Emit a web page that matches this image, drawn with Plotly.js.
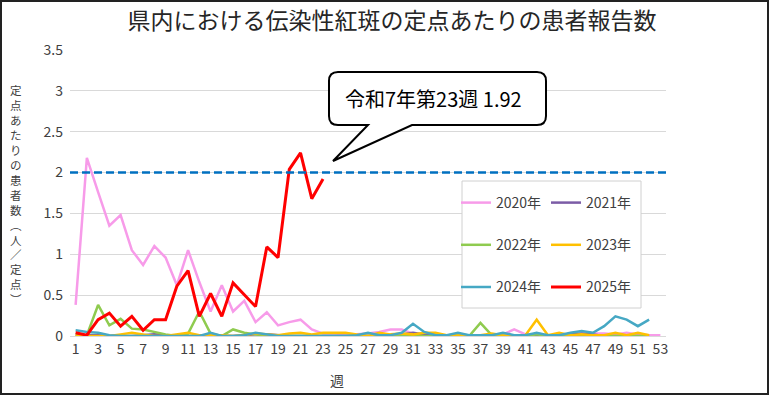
<!DOCTYPE html>
<html>
<head>
<meta charset="utf-8">
<script src="https://cdn.plot.ly/plotly-3.0.1.min.js"></script>
<style>
html,body{margin:0;padding:0;background:#fff;}
#chart{width:769px;height:395px;}
</style>
</head>
<body>
<div id="chart"></div>
<script>
// ---- data ----
const weeks = [1,2,3,4,5,6,7,8,9,10,11,12,13,14,15,16,17,18,19,20,21,22,23,24,25,26,27,28,29,30,31,32,33,34,35,36,37,38,39,40,41,42,43,44,45,46,47,48,49,50,51,52,53];
const y2020 = [0.38,2.18,1.76,1.35,1.48,1.05,0.87,1.10,0.96,0.62,1.05,0.66,0.30,0.62,0.30,0.43,0.17,0.29,0.13,0.17,0.20,0.08,0.03,0.03,0.02,0.02,0.03,0.05,0.08,0.08,0.03,0.01,0.01,0.01,0.01,0.00,0.01,0.01,0.02,0.08,0.02,0.01,0.01,0.00,0.02,0.03,0.03,0.03,0.02,0.04,0.02,0.01,0.01];
const y2021 = [0.00,0.01,0.01,0.00,0.00,0.00,0.01,0.02,0.01,0.00,0.00,0.00,0.00,0.00,0.00,0.01,0.02,0.02,0.01,0.00,0.00,0.00,0.00,0.00,0.00,0.00,0.00,0.00,0.00,0.02,0.04,0.02,0.00,0.00,0.00,0.00,0.00,0.00,0.00,0.00,0.00,0.00,0.00,0.00,0.02,0.03,0.02,0.00,0.00,0.00,0.00,0.00];
const y2022 = [0.02,0.01,0.38,0.13,0.21,0.09,0.08,0.05,0.02,0.00,0.03,0.30,0.03,0.00,0.08,0.04,0.02,0.00,0.00,0.00,0.00,0.00,0.00,0.00,0.00,0.00,0.00,0.00,0.00,0.00,0.01,0.00,0.00,0.00,0.00,0.00,0.16,0.01,0.00,0.00,0.00,0.02,0.00,0.00,0.00,0.00,0.00,0.00,0.00,0.00,0.00,0.00];
const y2023 = [0.00,0.00,0.00,0.00,0.02,0.04,0.02,0.00,0.00,0.02,0.04,0.01,0.01,0.01,0.00,0.01,0.03,0.02,0.01,0.03,0.04,0.02,0.04,0.04,0.04,0.02,0.00,0.04,0.02,0.03,0.02,0.04,0.04,0.01,0.01,0.00,0.01,0.03,0.01,0.00,0.01,0.20,0.01,0.04,0.01,0.02,0.01,0.01,0.04,0.01,0.04,0.01];
const y2024 = [0.07,0.05,0.04,0.01,0.00,0.00,0.00,0.00,0.00,0.00,0.00,0.00,0.04,0.00,0.00,0.01,0.04,0.02,0.00,0.00,0.00,0.00,0.00,0.00,0.00,0.01,0.04,0.01,0.01,0.04,0.15,0.05,0.01,0.01,0.04,0.01,0.01,0.01,0.04,0.01,0.01,0.04,0.01,0.01,0.04,0.06,0.04,0.12,0.24,0.20,0.12,0.20];
const y2025 = [0.04,0.01,0.20,0.28,0.12,0.24,0.07,0.20,0.20,0.61,0.80,0.24,0.52,0.24,0.65,0.50,0.36,1.09,0.96,2.04,2.24,1.68,1.92];
const seriesNames = ['2020年','2021年','2022年','2023年','2024年','2025年'];
const tickWeeks = [1,3,5,7,9,11,13,15,17,19,21,23,25,27,29,31,33,35,37,39,41,43,45,47,49,51,53];
const yTicks = [0,0.5,1,1.5,2,2.5,3,3.5];
const alertLevel = 2;
const chartTitle = '県内における伝染性紅斑の定点あたりの患者報告数';
const calloutText = '令和7年第23週 1.92';
const xTitle = '週';
const yTitleChars = ['定','点','あ','た','り','の','患','者','数','︵','人','／','定','点','︶'];

// ---- styling ----
const FONT = '"Noto Sans CJK JP", "Noto Sans", sans-serif';
const colors = ['#F79BE9','#7B5CA6','#8FCB4F','#FFC000','#46A8C4','#FF0000'];
const widths = [2.5,2.5,2.5,2.5,2.5,3];
const seriesData = [y2020,y2021,y2022,y2023,y2024,y2025];
const legendOf = ['legend','legend2','legend','legend2','legend','legend2'];

// layout geometry (pixels)
const W = 769, H = 395;
const M = {l:70, r:103, t:50, b:59};
const PW = W - M.l - M.r, PH = H - M.t - M.b;
const px = x => (x - M.l) / PW;
const py = y => (H - M.b - y) / PH;

const traces = seriesData.map((arr, i) => ({
  type: 'scatter',
  mode: 'lines',
  name: seriesNames[i],
  x: weeks.slice(0, arr.length),
  y: arr,
  line: {color: colors[i], width: widths[i]},
  legend: legendOf[i],
  legendgroup: 'g' + i,
  hoverinfo: 'x+y+name'
}));

// callout path (rounded box with tail)
const L = 329, R = 546, T = 72, B = 125, r = 9;
const xa = 368, xb = 412, tipX = 333, tipY = 161;
const P = (x, y) => px(x).toFixed(5) + ',' + py(y).toFixed(5);
const calloutPath =
  'M' + P(L + r, T) + ' L' + P(R - r, T) + ' Q' + P(R, T) + ' ' + P(R, T + r) +
  ' L' + P(R, B - r) + ' Q' + P(R, B) + ' ' + P(R - r, B) +
  ' L' + P(xb, B) + ' L' + P(tipX, tipY) + ' L' + P(xa, B) +
  ' L' + P(L + r, B) + ' Q' + P(L, B) + ' ' + P(L, B - r) +
  ' L' + P(L, T + r) + ' Q' + P(L, T) + ' ' + P(L + r, T) + ' Z';

const legendCommon = {
  bgcolor: 'rgba(0,0,0,0)', borderwidth: 0,
  font: {family: FONT, size: 14, color: '#404040'},
  tracegroupgap: 21, itemwidth: 30,
  xanchor: 'left', yanchor: 'top', itemclick: false, itemdoubleclick: false
};

const layout = {
  width: W, height: H,
  margin: M,
  paper_bgcolor: '#ffffff', plot_bgcolor: '#ffffff',
  font: {family: FONT, color: '#404040'},
  title: {
    text: chartTitle,
    font: {family: FONT, size: 23, color: '#262626'},
    x: 392 / W, xanchor: 'center', xref: 'container',
    y: 1 - 21 / H, yanchor: 'middle', yref: 'container'
  },
  xaxis: {
    range: [0.5, 53.5],
    tickvals: tickWeeks,
    ticktext: tickWeeks.map(String),
    tickfont: {family: FONT, size: 14, color: '#404040'},
    showgrid: false, zeroline: false,
    showline: true, linecolor: '#d9d9d9', linewidth: 1,
    ticks: '', fixedrange: true
  },
  yaxis: {
    range: [0, 3.5],
    tickvals: yTicks,
    ticktext: yTicks.map(String),
    tickfont: {family: FONT, size: 14, color: '#404040'},
    showgrid: true, gridcolor: '#d9d9d9', gridwidth: 1,
    zeroline: false, showline: false, ticks: '', ticklabelstandoff: 6, fixedrange: true
  },
  showlegend: true,
  legend: Object.assign({}, legendCommon, {x: px(456), y: py(187)}),
  legend2: Object.assign({}, legendCommon, {x: px(546), y: py(187)}),
  shapes: [
    // alert level dashed line
    {type: 'line', xref: 'paper', x0: 0, x1: 1, yref: 'y', y0: alertLevel, y1: alertLevel,
     line: {color: '#0070C0', width: 2.5, dash: '8px,4px'}, layer: 'above'},
    // legend box
    {type: 'rect', xref: 'paper', yref: 'paper', x0: px(462), x1: px(641), y0: py(308), y1: py(181),
     fillcolor: '#ffffff', line: {color: '#d0d0d0', width: 1}, layer: 'above'},
    // callout
    {type: 'path', xref: 'paper', yref: 'paper', path: calloutPath,
     fillcolor: '#ffffff', line: {color: '#000000', width: 2}, layer: 'above'},
    // outer frame
    {type: 'rect', xref: 'paper', yref: 'paper', x0: px(1), x1: px(768), y0: py(394), y1: py(1),
     line: {color: '#222222', width: 2}, layer: 'above'}
  ],
  annotations: [
    {text: calloutText, xref: 'paper', yref: 'paper', x: px(433), y: py(98),
     xanchor: 'center', yanchor: 'middle', showarrow: false,
     font: {family: FONT, size: 20, color: '#000000'}},
    {text: xTitle, xref: 'paper', yref: 'paper', x: px(337), y: py(380),
     xanchor: 'center', yanchor: 'middle', showarrow: false,
     font: {family: FONT, size: 14, color: '#404040'}},
    {text: yTitleChars.join('<br>'), xref: 'paper', yref: 'paper', x: px(16), y: py(194),
     xanchor: 'center', yanchor: 'middle', showarrow: false,
     font: {family: FONT, size: 11.5, color: '#404040'}}
  ]
};

Plotly.newPlot('chart', traces, layout, {displayModeBar: false, staticPlot: true});
</script>
</body>
</html>
